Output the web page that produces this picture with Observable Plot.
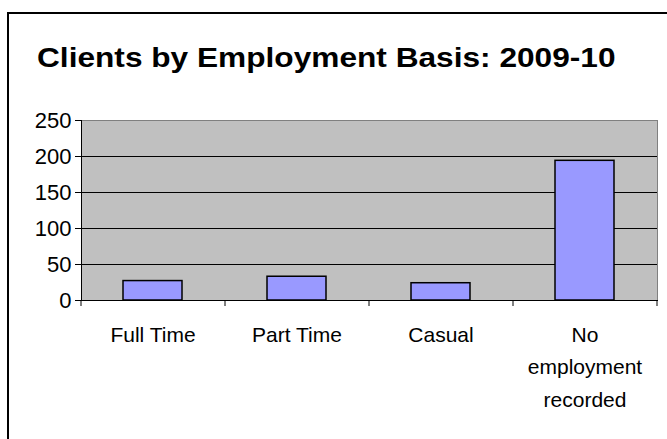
<!DOCTYPE html>
<html><head><meta charset="utf-8">
<script src="https://cdn.jsdelivr.net/npm/d3@7"></script>
<script src="https://cdn.jsdelivr.net/npm/@observablehq/plot@0.6"></script>
<style>
html,body{margin:0;padding:0;background:#fff;overflow:hidden;width:667px;height:439px;}
#frame{position:absolute;left:7px;top:12px;width:700px;height:500px;border:2px solid #000;}
#title{position:absolute;left:37px;top:44px;font:bold 28px "Liberation Sans",Arial,sans-serif;line-height:28px;white-space:nowrap;transform:scaleX(1.13);transform-origin:0 0;color:#000;}
#chart{position:absolute;left:0;top:100px;}
</style></head><body>
<div id="frame"></div>
<div id="title">Clients by Employment Basis: 2009-10</div>
<div id="chart"></div>
<script>
const categories = ["Full Time", "Part Time", "Casual", "No employment recorded"];
const labels = ["Full Time", "Part Time", "Casual", "No\nemployment\nrecorded"];
const values = [27, 33, 24, 194];
const yTicks = [0, 50, 100, 150, 200, 250];
const gridTicks = [50, 100, 150, 200];

const data = categories.map((c, i) => ({category: c, value: values[i], label: labels[i]}));

const plot = Plot.plot({
  width: 667,
  height: 339,
  marginLeft: 81,
  marginRight: 10,
  marginTop: 20,
  marginBottom: 139,
  style: {fontFamily: '"Liberation Sans", Arial, sans-serif', fontSize: "21px", color: "#000", background: "transparent"},
  x: {domain: categories, paddingInner: 0.59, paddingOuter: 0.295},
  y: {domain: [0, 250]},
  marks: [
    Plot.frame({fill: "#c0c0c0", stroke: "#808080"}),
    Plot.ruleY(gridTicks, {stroke: "#000", strokeWidth: 1}),
    Plot.barY(data, {x: "category", y: "value", fill: "#9999ff", stroke: "#000", strokeWidth: 1.5}),
    Plot.frame({anchor: "left", stroke: "#000"}),
    Plot.frame({anchor: "bottom", stroke: "#000"}),
    Plot.axisY({ticks: yTicks, tickSize: 6, tickPadding: 4, label: null, fontSize: 22, stroke: "#000"}),
    Plot.axisX({tickSize: 6, tickFormat: () => "", dx: -72, label: null, stroke: "#000"}),
    Plot.axisX([categories[categories.length - 1]], {tickSize: 6, tickFormat: () => "", dx: 72, label: null, stroke: "#000"}),
    Plot.text(data, {x: "category", frameAnchor: "bottom", text: "label", lineAnchor: "top", dy: 18, lineHeight: 1.55, fontSize: 21, fill: "#000"})
  ]
});
document.getElementById("chart").appendChild(plot);
</script>
</body></html>
